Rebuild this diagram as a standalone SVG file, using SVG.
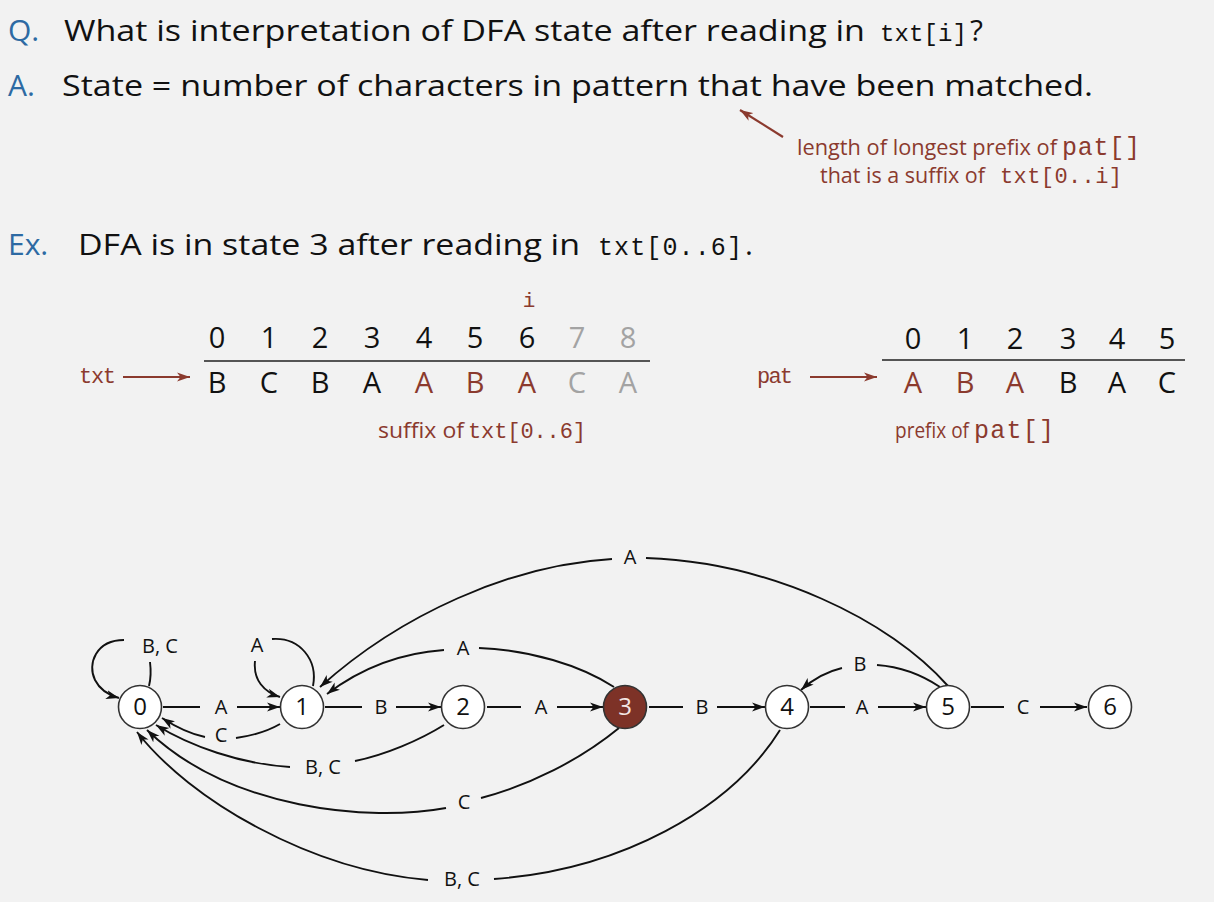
<svg xmlns="http://www.w3.org/2000/svg" width="1214" height="902" viewBox="0 0 1214 902">
<defs>
<style>
.s{font-family:"Open Sans","Liberation Sans",sans-serif;}
.m{font-family:"Liberation Mono","DejaVu Sans Mono",monospace;}
.blue{fill:#2d6aa3;}
.br{fill:#8b3a2e;}
.gr{fill:#a3a3a3;}
.big{font-size:30px;fill:#111;}
.ann{font-size:22px;}
.arr{font-size:29px;text-anchor:middle;}
.lbl{font-size:20px;fill:#111;text-anchor:middle;}
.num{font-size:24px;fill:#111;text-anchor:middle;}
.e{fill:none;stroke:#111;stroke-width:1.9;}
.ea{fill:none;stroke:#111;stroke-width:1.9;marker-end:url(#ah);}
.node{fill:#fff;stroke:#333;stroke-width:1.6;}
</style>
<marker id="ah" markerUnits="userSpaceOnUse" markerWidth="14" markerHeight="10" refX="13" refY="5" orient="auto">
<path d="M0,0.5 L13,5 L0,9.5 L3.5,5 z" fill="#111"/>
</marker>
<marker id="ahb" markerUnits="userSpaceOnUse" markerWidth="14" markerHeight="10" refX="13" refY="5" orient="auto">
<path d="M0,0.5 L13,5 L0,9.5 L3.5,5 z" fill="#8b3a2e"/>
</marker>
</defs>
<rect width="1214" height="902" fill="#f2f2f2"/>

<g id="header">
<text class="s blue" x="8" y="41" font-size="30">Q.</text>
<text class="s big" x="64" y="41" textLength="801" lengthAdjust="spacingAndGlyphs">What is interpretation of DFA state after reading in</text>
<text class="m" x="880" y="41" font-size="24" fill="#111" textLength="87" lengthAdjust="spacing">txt[i]</text>
<text class="s big" x="970" y="41">?</text>

<text class="s blue" x="8" y="96" font-size="30">A.</text>
<text class="s big" x="62" y="96" textLength="1031" lengthAdjust="spacingAndGlyphs">State = number of characters in pattern that have been matched.</text>

<line x1="783" y1="137" x2="740" y2="110" stroke="#8b3a2e" stroke-width="2.2" marker-end="url(#ahb)"/>
<text class="s br ann" x="797" y="155" textLength="260" lengthAdjust="spacingAndGlyphs">length of longest prefix of</text>
<text class="m br" x="1062" y="155" font-size="25" textLength="78" lengthAdjust="spacing">pat[]</text>
<text class="s br ann" x="820" y="183" textLength="165" lengthAdjust="spacingAndGlyphs">that is a suffix of</text>
<text class="m br" x="1000" y="183" font-size="22" textLength="122" lengthAdjust="spacing">txt[0..i]</text>

<text class="s blue" x="8" y="255" font-size="30">Ex.</text>
<text class="s big" x="78" y="255" textLength="502" lengthAdjust="spacingAndGlyphs">DFA is in state 3 after reading in</text>
<text class="m" x="598" y="255" font-size="25" fill="#111" textLength="144" lengthAdjust="spacing">txt[0..6]</text>
<text class="s big" x="745" y="255">.</text>
</g>

<g id="txt-array">
<text class="m br" x="529" y="307" font-size="21" text-anchor="middle">i</text>
<g class="s arr" fill="#111">
<text x="217" y="348">0</text><text x="269" y="348">1</text><text x="320" y="348">2</text><text x="372" y="348">3</text><text x="424" y="348">4</text><text x="475" y="348">5</text><text x="527" y="348">6</text>
<text x="577" y="348" class="gr">7</text><text x="628" y="348" class="gr">8</text>
</g>
<line x1="204" y1="361" x2="650" y2="361" stroke="#555" stroke-width="2"/>
<g class="s arr">
<text x="217" y="393" fill="#111">B</text><text x="269" y="393" fill="#111">C</text><text x="320" y="393" fill="#111">B</text><text x="372" y="393" fill="#111">A</text>
<text x="424" y="393" class="br">A</text><text x="475" y="393" class="br">B</text><text x="527" y="393" class="br">A</text>
<text x="577" y="393" class="gr">C</text><text x="628" y="393" class="gr">A</text>
</g>
<text class="m br" x="79" y="383" font-size="22" textLength="37" lengthAdjust="spacing">txt</text>
<line x1="123" y1="377" x2="190" y2="377" stroke="#8b3a2e" stroke-width="2" marker-end="url(#ahb)"/>
<text class="s br ann" x="378" y="438" textLength="86" lengthAdjust="spacingAndGlyphs">suffix of</text>
<text class="m br" x="468" y="438" font-size="22" textLength="118" lengthAdjust="spacing">txt[0..6]</text>
</g>

<g id="pat-array">
<g class="s arr" fill="#111">
<text x="913" y="349">0</text><text x="965" y="349">1</text><text x="1015" y="349">2</text><text x="1068" y="349">3</text><text x="1117" y="349">4</text><text x="1167" y="349">5</text>
</g>
<line x1="882" y1="360" x2="1185" y2="360" stroke="#555" stroke-width="2"/>
<g class="s arr">
<text x="913" y="393" class="br">A</text><text x="965" y="393" class="br">B</text><text x="1015" y="393" class="br">A</text>
<text x="1068" y="393" fill="#111">B</text><text x="1117" y="393" fill="#111">A</text><text x="1167" y="393" fill="#111">C</text>
</g>
<text class="m br" x="757" y="383" font-size="22" textLength="36" lengthAdjust="spacing">pat</text>
<line x1="810" y1="377" x2="877" y2="377" stroke="#8b3a2e" stroke-width="2" marker-end="url(#ahb)"/>
<text class="s br ann" x="895" y="438" textLength="74" lengthAdjust="spacingAndGlyphs">prefix of</text>
<text class="m br" x="974" y="438" font-size="25" textLength="80" lengthAdjust="spacing">pat[]</text>
</g>

<g id="connectors">
<path class="e" d="M149,686 C151,678 151,670 150,662"/>
<path class="ea" d="M124,640 C96,640 87,664 95,680 C100,690 108,695 119,698"/>
<path class="e" d="M313,686 C318,660 300,637 272,639"/>
<path class="ea" d="M255,661 C253,680 264,692 280,697"/>
<path class="e" d="M163,707 L200,707"/>
<path class="ea" d="M237,707 L280,707"/>
<path class="e" d="M325,707 L362,707"/>
<path class="ea" d="M396,707 L441,707"/>
<path class="e" d="M487,707 L521,707"/>
<path class="ea" d="M557,707 L603,707"/>
<path class="e" d="M649,707 L683,707"/>
<path class="ea" d="M717,707 L765,707"/>
<path class="e" d="M810,707 L845,707"/>
<path class="ea" d="M878,707 L926,707"/>
<path class="e" d="M971,707 L1004,707"/>
<path class="ea" d="M1040,707 L1087,707"/>
<path class="e" d="M280,724 C268,731 250,736 236,738"/>
<path class="ea" d="M205,737 C190,734 176,727 162,718"/>
<path class="e" d="M444,725 C420,740 385,755 355,761"/>
<path class="ea" d="M290,767 C240,764 190,746 156,725"/>
<path class="e" d="M619,728 C580,760 530,785 481,798"/>
<path class="ea" d="M446,808 C370,822 230,810 147,730"/>
<path class="e" d="M780,730 C730,810 620,870 494,879"/>
<path class="ea" d="M428,880 C310,870 190,800 137,732"/>
<path class="e" d="M614,687 C580,665 530,650 479,648"/>
<path class="ea" d="M444,650 C400,653 360,669 327,694"/>
<path class="e" d="M948,686 C890,620 770,562 646,558"/>
<path class="ea" d="M612,559 C510,565 400,615 320,687"/>
<path class="e" d="M940,687 C925,677 905,667 877,665"/>
<path class="ea" d="M842,668 C825,672 812,680 801,690"/>
</g>

<g id="edge-labels" class="s lbl">
<text x="160" y="653">B, C</text>
<text x="257" y="652">A</text>
<text x="221" y="714">A</text>
<text x="221" y="742">C</text>
<text x="381" y="714">B</text>
<text x="323" y="774">B, C</text>
<text x="541" y="714">A</text>
<text x="702" y="714">B</text>
<text x="862" y="714">A</text>
<text x="1023" y="714">C</text>
<text x="464" y="809">C</text>
<text x="462" y="886">B, C</text>
<text x="463" y="655">A</text>
<text x="630" y="564">A</text>
<text x="860" y="671">B</text>
</g>

<g id="node-0"><circle class="node" cx="140" cy="707" r="21.5"/><text class="s num" x="140" y="715">0</text></g>
<g id="node-1"><circle class="node" cx="302" cy="707" r="21.5"/><text class="s num" x="302" y="715">1</text></g>
<g id="node-2"><circle class="node" cx="463" cy="707" r="21.5"/><text class="s num" x="463" y="715">2</text></g>
<g id="node-3"><circle cx="625" cy="707" r="21.5" fill="#7d3227" stroke="#333" stroke-width="1.6"/><text class="s num" x="625" y="715" style="fill:#f3e6e4">3</text></g>
<g id="node-4"><circle class="node" cx="787" cy="707" r="21.5"/><text class="s num" x="787" y="715">4</text></g>
<g id="node-5"><circle class="node" cx="948" cy="707" r="21.5"/><text class="s num" x="948" y="715">5</text></g>
<g id="node-6"><circle class="node" cx="1110" cy="707" r="21.5"/><text class="s num" x="1110" y="715">6</text></g>
</svg>
